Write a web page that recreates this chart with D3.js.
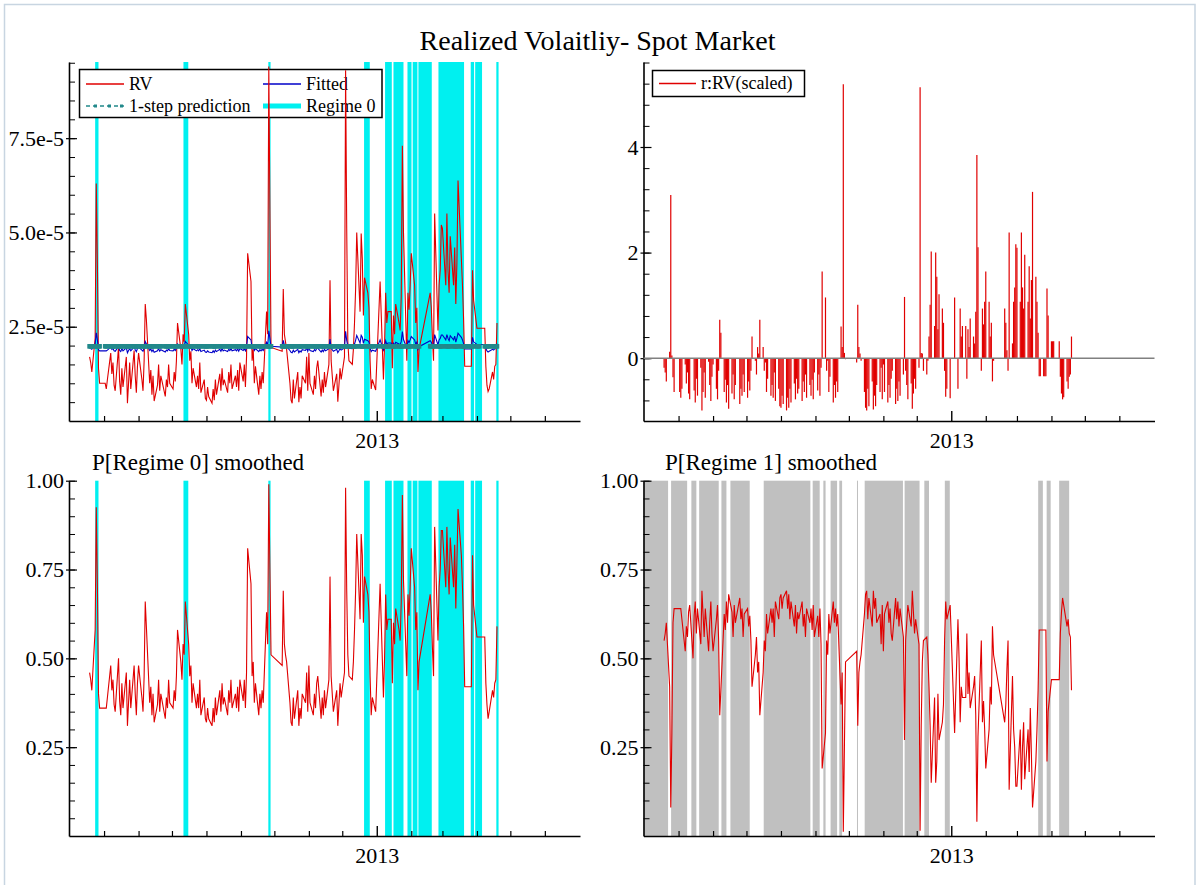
<!DOCTYPE html>
<html><head><meta charset="utf-8">
<script src="https://cdn.jsdelivr.net/npm/d3@7"></script>
<style>body{margin:0;background:#fff}svg{display:block}</style>
</head><body><svg id="c" width="1198" height="885"></svg>
<script>
// ---------------- DATA ----------------
const chartTitle = "Realized Volaitliy- Spot Market";
const firstDay = "2012-04-18", lastDay = "2013-04-19";
const holidays = ["2012-04-30","2012-05-01","2012-06-22","2012-10-01","2012-10-02","2012-10-03","2012-10-04","2012-10-05",
  "2013-01-01","2013-01-02","2013-01-03","2013-02-11","2013-02-12","2013-02-13","2013-02-14","2013-02-15","2013-04-04","2013-04-05"];
const axisStart = "2012-03-30T12:00", axisEnd = "2013-07-02T14:00";
const monthTickFirst = "2012-05-01", monthTickLast = "2013-06-01";
const yearTick = "2013-01-01", yearLabel = "2013";

// RV (x 1e-5)
const rv = [
1.70,1.55,1.30,2.20,6.30,4.20,1.40,1.00,
1.00,0.85,1.10,1.80,1.25,1.55,0.95,0.80,1.96,1.05,0.70,1.40,0.90,1.70,0.47,1.00,1.55,0.85,1.87,1.20,0.75,1.45,1.80,
1.10,0.80,1.60,3.10,2.70,1.00,1.35,0.70,1.20,0.53,0.95,1.50,0.80,1.20,0.65,1.10,0.90,1.50,1.00,
0.85,1.30,1.05,1.60,2.60,1.90,1.50,2.30,2.10,3.10,2.30,1.60,1.85,1.00,1.40,0.90,1.20,0.85,1.55,0.75,1.10,0.60,
0.55,0.90,0.65,0.47,0.85,0.55,1.10,0.70,1.25,0.80,1.40,0.95,1.10,0.75,1.30,1.00,1.50,0.85,1.20,0.90,1.35,0.80,1.55,
1.05,1.50,0.90,1.70,4.45,3.70,1.60,1.90,1.00,1.45,0.70,1.20,0.85,1.30,1.00,2.90,2.30,9.40,5.60,1.95,
1.85,3.50,2.30,2.10,1.90,1.00,0.55,0.47,1.10,0.60,1.30,0.50,0.90,0.60,1.20,1.00,1.70,0.80,
1.80,1.00,0.70,1.20,0.85,1.40,1.60,0.65,1.10,0.75,1.30,0.90,1.50,3.73,1.60,1.20,0.80,1.25,0.51,0.95,1.40,1.10,
1.70,9.30,5.10,2.10,1.60,1.50,1.90,2.60,3.50,5.00,2.90,4.97,4.30,2.80,3.80,3.40,3.00,1.60,0.85,1.10,0.82,
3.70,1.10,2.00,3.40,2.60,2.90,2.90,1.40,2.80,2.30,3.10,2.60,2.40,3.30,7.30,5.00,1.60,3.40,2.95,3.60,
4.45,3.60,2.60,3.00,1.30,1.90,3.40,3.00,2.20,1.60,5.50,2.40,3.60,4.00,5.20,
5.10,3.60,5.50,4.00,3.40,4.90,3.60,4.60,3.10,4.20,6.38,4.30,3.60,2.70,1.45,1.45,1.45,1.45,1.45,4.00,3.20,
2.46,2.46,2.46,2.46,1.45,0.95,0.78,0.85,1.30,1.10,1.45,1.50,2.60];

// Fitted (x 1e-5)
const fitted = [
1.94,1.92,1.90,2.04,2.34,2.15,1.89,1.86,
1.86,1.86,1.88,1.96,1.90,1.92,1.86,1.85,1.98,1.87,1.84,1.92,1.86,1.94,1.81,1.87,1.92,1.86,1.96,1.89,1.84,1.92,1.96,
1.88,1.85,1.93,2.11,2.05,1.87,1.91,1.84,1.89,1.82,1.86,1.92,1.85,1.89,1.83,1.88,1.86,1.92,1.87,
1.86,1.90,1.87,1.93,2.04,1.97,1.92,2.01,1.98,2.11,2.01,1.93,1.96,1.87,1.92,1.86,1.89,1.86,1.92,1.84,1.88,1.83,
1.82,1.86,1.83,1.81,1.86,1.82,1.88,1.84,1.90,1.85,1.92,1.86,1.88,1.84,1.90,1.87,1.92,1.86,1.89,1.86,1.91,1.85,1.92,
1.87,1.92,1.86,1.94,2.24,2.15,1.93,1.97,1.87,1.92,1.84,1.89,1.86,1.90,1.87,2.09,2.01,2.39,2.19,1.98,
1.96,2.14,2.01,1.98,1.97,1.87,1.82,1.81,1.88,1.83,1.90,1.81,1.86,1.83,1.89,1.87,1.94,1.85,
1.96,1.87,1.84,1.89,1.86,1.92,1.93,1.83,1.88,1.84,1.90,1.86,1.92,2.17,1.93,1.89,1.85,1.90,1.81,1.86,1.92,1.88,
1.94,2.38,2.14,1.98,1.93,1.92,1.97,2.04,2.14,2.27,2.07,2.27,2.22,2.06,2.17,2.13,2.09,1.93,1.84,1.88,1.85,
2.15,1.88,1.98,2.13,2.04,2.07,2.07,1.92,2.06,2.01,2.09,2.04,2.02,2.11,2.37,2.16,1.93,2.13,2.08,2.15,
2.24,2.15,2.04,2.09,1.90,1.97,2.13,2.09,2.00,1.93,2.29,2.02,2.15,2.19,2.28,
2.28,2.15,2.29,2.19,2.13,2.26,2.15,2.25,2.09,2.20,2.33,2.22,2.15,2.05,1.91,1.91,1.91,1.91,1.91,2.22,2.10,
2.03,2.03,2.03,2.03,1.92,1.86,1.83,1.85,1.90,1.88,1.92,1.92,2.05];

// 1-step prediction level (x 1e-5)
const predictionLevel = 1.98;

// P[Regime 0] smoothed
const p0 = [
.46,.44,.41,.58,.925,.71,.40,.36,
.36,.36,.39,.48,.41,.44,.37,.35,.50,.38,.34,.43,.36,.46,.31,.375,.44,.36,.48,.40,.34,.43,.48,
.39,.35,.45,.66,.59,.375,.42,.34,.40,.32,.37,.44,.35,.40,.33,.39,.36,.44,.375,
.36,.41,.38,.45,.58,.49,.44,.54,.51,.66,.54,.45,.48,.375,.43,.36,.40,.36,.44,.34,.39,.33,
.32,.36,.33,.31,.36,.32,.39,.34,.41,.35,.43,.37,.39,.34,.41,.375,.44,.36,.40,.36,.42,.35,.44,
.38,.44,.36,.46,.81,.71,.45,.49,.375,.43,.34,.40,.36,.41,.375,.63,.54,.99,.75,.51,
.48,.69,.54,.51,.49,.375,.32,.31,.39,.33,.41,.31,.36,.33,.40,.375,.46,.35,
.48,.375,.34,.40,.36,.43,.45,.33,.39,.34,.41,.36,.44,.73,.45,.40,.35,.41,.31,.37,.43,.39,
.46,.98,.69,.51,.45,.44,.49,.58,.69,.85,.61,.85,.79,.60,.73,.68,.63,.45,.34,.39,.35,
.71,.39,.50,.68,.58,.61,.61,.43,.60,.54,.64,.58,.55,.66,.96,.72,.45,.68,.62,.70,
.81,.70,.58,.63,.41,.49,.68,.63,.53,.45,.87,.55,.70,.75,.86,
.86,.70,.87,.75,.68,.84,.70,.82,.64,.77,.92,.79,.70,.59,.42,.42,.42,.42,.42,.79,.65,
.56,.56,.56,.56,.43,.37,.33,.35,.41,.39,.43,.44,.59];

// P[Regime 1] smoothed
const p1 = [
.55,.57,.60,.42,.08,.29,.60,.64,
.64,.64,.61,.52,.59,.56,.63,.65,.50,.62,.66,.57,.64,.54,.69,.625,.56,.64,.52,.60,.66,.57,.52,
.61,.65,.55,.34,.41,.625,.58,.66,.60,.68,.63,.56,.65,.60,.67,.61,.64,.56,.625,
.64,.59,.62,.55,.42,.51,.56,.46,.49,.34,.46,.55,.52,.625,.57,.64,.60,.64,.56,.66,.61,.67,
.68,.64,.67,.69,.64,.68,.61,.66,.59,.65,.57,.63,.61,.66,.59,.625,.56,.64,.60,.64,.58,.65,.56,
.62,.56,.64,.54,.19,.29,.55,.51,.625,.57,.66,.60,.64,.59,.625,.37,.46,.012,.25,.49,
.52,.31,.46,.49,.51,.625,.68,.69,.61,.67,.59,.69,.64,.67,.60,.625,.54,.65,
.52,.625,.66,.60,.64,.57,.55,.67,.61,.66,.59,.64,.56,.27,.55,.60,.65,.59,.69,.63,.57,.61,
.54,.015,.31,.49,.55,.56,.51,.42,.31,.15,.39,.15,.21,.40,.27,.32,.37,.55,.66,.61,.65,
.29,.61,.50,.32,.42,.39,.39,.57,.40,.46,.36,.42,.45,.34,.04,.28,.55,.32,.38,.30,
.19,.30,.42,.37,.59,.51,.32,.37,.47,.55,.13,.45,.30,.25,.14,
.14,.30,.13,.25,.32,.16,.30,.18,.36,.23,.08,.21,.30,.41,.58,.58,.58,.58,.58,.21,.35,
.44,.44,.44,.44,.57,.63,.67,.65,.59,.61,.57,.56,.41];

// r:RV (scaled)
const resid = [
-0.18,-0.27,-0.44,0.12,3.09,0.05,-0.36,-0.64,
-0.64,-0.75,-0.58,-0.12,-0.48,-0.27,-0.67,-0.78,-0.01,-0.61,-0.84,-0.39,-0.71,-0.18,-0.99,-0.64,-0.27,-0.75,-0.07,-0.51,-0.81,-0.35,-0.12,
-0.58,-0.78,-0.24,0.73,0.48,-0.64,-0.41,-0.84,-0.51,-0.96,-0.67,-0.31,-0.78,-0.51,-0.87,-0.58,-0.71,-0.31,-0.64,
-0.75,-0.44,-0.61,-0.24,0.41,-0.05,-0.31,0.21,0.09,0.73,0.21,-0.24,-0.08,-0.64,-0.39,-0.71,-0.51,-0.75,-0.27,-0.81,-0.58,-0.91,
-0.94,-0.71,-0.87,-0.99,-0.75,-0.94,-0.58,-0.84,-0.48,-0.78,-0.39,-0.67,-0.58,-0.81,-0.44,-0.64,-0.31,-0.75,-0.51,-0.71,-0.41,-0.78,-0.27,
-0.61,-0.31,-0.71,-0.18,1.64,1.15,-0.24,-0.05,-0.64,-0.35,-0.84,-0.51,-0.75,-0.44,-0.64,0.60,0.21,5.19,0.10,-0.02,
-0.08,1.01,0.21,0.09,-0.05,-0.64,-0.94,-0.99,-0.58,-0.91,-0.44,-0.97,-0.71,-0.91,-0.51,-0.64,-0.18,-0.78,
-0.12,-0.64,-0.84,-0.51,-0.75,-0.39,-0.24,-0.87,-0.58,-0.81,-0.44,-0.71,-0.31,1.16,-0.24,-0.51,-0.78,-0.48,-0.96,-0.67,-0.39,-0.58,
-0.18,5.13,0.10,0.09,-0.24,-0.31,-0.05,0.41,1.01,2.02,0.61,2.00,1.54,0.55,1.21,0.94,0.67,-0.24,-0.73,-0.58,-0.76,
1.15,-0.58,0.01,0.94,0.41,0.61,0.61,-0.39,0.55,0.21,0.75,0.41,0.28,0.88,3.85,2.10,-0.24,0.94,0.64,1.07,
1.64,1.07,0.41,0.67,-0.44,-0.05,0.94,0.67,0.15,-0.24,2.38,0.28,1.07,1.34,2.16,
2.09,1.07,2.38,1.34,0.94,1.96,1.07,1.74,0.75,1.48,3.15,1.54,1.07,0.48,-0.34,-0.34,-0.34,-0.34,-0.34,1.32,0.81,
0.32,0.32,0.32,0.32,-0.35,-0.67,-0.78,-0.74,-0.44,-0.58,-0.35,-0.31,0.41];

// Regime classification shading
const regime0Bands = [
["2012-04-23T00:00","2012-04-26T00:00"],["2012-07-11T08:00","2012-07-15T16:00"],["2012-09-25T14:00","2012-09-27T14:00"],
["2012-12-20T14:00","2012-12-25T17:00"],["2013-01-08T11:00","2013-01-14T12:00"],["2013-01-16T00:00","2013-01-25T00:00"],
["2013-01-28T14:00","2013-02-01T05:00"],["2013-02-02T07:00","2013-02-06T12:00"],["2013-02-07T10:00","2013-02-19T10:00"],
["2013-02-25T10:00","2013-03-20T10:00"],["2013-03-26T10:00","2013-03-29T10:00"],["2013-03-30T10:00","2013-04-05T14:00"],
["2013-04-18T10:00","2013-04-20T10:00"]];
const regime1Bands = [
["2012-03-30T12:00","2012-04-21T14:00"],["2012-04-24T07:00","2012-05-08T17:00"],["2012-05-12T12:00","2012-05-17T00:00"],
["2012-05-19T12:00","2012-06-06T02:00"],["2012-06-08T12:00","2012-06-13T00:00"],["2012-06-16T14:00","2012-07-03T22:00"],
["2012-07-16T12:00","2012-08-27T10:00"],["2012-08-29T12:00","2012-09-04T19:00"],["2012-09-08T02:00","2012-09-10T02:00"],
["2012-09-14T14:00","2012-09-20T10:00"],["2012-09-22T10:00","2012-09-24T22:00"],["2012-10-08T07:00","2012-10-09T05:00"],
["2012-10-15T05:00","2012-11-18T14:00"],["2012-11-20T02:00","2012-12-03T12:00"],["2012-12-07T19:00","2012-12-12T00:00"],
["2012-12-26T05:00","2012-12-30T16:00"],["2013-03-20T02:00","2013-03-24T07:00"],["2013-03-27T17:00","2013-03-31T07:00"],
["2013-04-07T22:00","2013-04-16T22:00"]];

const rvMinorTicks = [0.5,1,1.5,2,2.5,3,3.5,4,4.5,5,5.5,6,6.5,7,7.5,8,8.5,9,9.5];
const rvMajorTicks = [2.5,5.0,7.5], rvTickLabels = ["2.5e-5","5.0e-5","7.5e-5"];
const resMinorTicks = [-0.8,-0.4,0,0.4,0.8,1.2,1.6,2,2.4,2.8,3.2,3.6,4,4.4,4.8,5.2,5.6];
const resMajorTicks = [0,2,4], resTickLabels = ["0","2","4"];
const pMinorTicks = [0.05,0.1,0.15,0.2,0.25,0.3,0.35,0.4,0.45,0.5,0.55,0.6,0.65,0.7,0.75,0.8,0.85,0.9,0.95,1];
const pMajorTicks = [0.25,0.5,0.75,1], pTickLabels = ["0.25","0.50","0.75","1.00"];

// ---------------- DRAW ----------------
const FONT = '"Liberation Serif","Times New Roman",Times,serif';
const RED = "#e00000", BLUE = "#0000c8", TEAL = "#22898b", CYAN = "#00f0f0", GREY = "#c0c0c0";
const svg = d3.select("#c");
const tpD = d3.timeParse("%Y-%m-%d"), tpH = d3.timeParse("%Y-%m-%dT%H:%M");
const pd = s => s.length > 10 ? tpH(s) : tpD(s);
const fmt = d3.timeFormat("%Y-%m-%d");
const hol = new Set(holidays);
const dates = d3.timeDay.range(pd(firstDay), d3.timeDay.offset(pd(lastDay), 1))
  .filter(d => d.getDay() !== 0 && d.getDay() !== 6 && !hol.has(fmt(d)));
const n = Math.min(dates.length, rv.length, fitted.length, p0.length, p1.length, resid.length);
const obs = d3.range(n).map(i => ({date: dates[i], rv: rv[i], fit: fitted[i], p0: p0[i], p1: p1[i], r: resid[i]}));

const dom = [pd(axisStart), pd(axisEnd)];
const xL = d3.scaleTime().domain(dom).range([69, 580]);
const xR = d3.scaleTime().domain(dom).range([643.5, 1154.5]);
const yRV = d3.scaleLinear().domain([0, 9.52]).range([421, 62]);
const yRes = d3.scaleLinear().domain([-1.19, 5.61]).range([421, 62]);
const yP0 = d3.scaleLinear().domain([0, 1]).range([836, 480.7]);
const yP1 = d3.scaleLinear().domain([0, 1]).range([836, 480.7]);

// page frame
svg.append("rect").attr("x",0).attr("y",0).attr("width",1198).attr("height",885).attr("fill","#fff");
svg.append("path").attr("d","M4.5,885V4.5H1195V885").attr("fill","none").attr("stroke","#c8d5e1").attr("stroke-width",1.5);

// title
svg.append("text").attr("x",597.5).attr("y",50).attr("text-anchor","middle")
  .attr("font-family",FONT).attr("font-size",28).text(chartTitle);

function bands(x, y, list, color) {
  const [xa, xb] = x.range(), [yb, yt] = y.range();
  svg.append("g").selectAll("rect").data(list).join("rect")
    .attr("x", d => Math.max(xa, x(pd(d[0]))))
    .attr("width", d => Math.max(0, Math.min(xb, x(pd(d[1]))) - Math.max(xa, x(pd(d[0])))))
    .attr("y", yt).attr("height", yb - yt).attr("fill", color);
}

const monthTicks = d3.timeMonth.range(pd(monthTickFirst), d3.timeMonth.offset(pd(monthTickLast), 1))
  .filter(d => +d !== +pd(yearTick));

function axes(x, y, minor, major, labels) {
  const x0 = x.range()[0], yb = y.range()[0];
  svg.append("g").attr("transform", `translate(${x0},0)`)
    .call(d3.axisLeft(y).tickValues(minor).tickSizeInner(-6).tickSizeOuter(0).tickFormat(""))
    .call(g => { g.select(".domain").remove(); g.selectAll(".tick line").attr("stroke-width",1); });
  const gy = svg.append("g").attr("transform", `translate(${x0},0)`)
    .call(d3.axisLeft(y).tickValues(major).tickSizeInner(-8).tickSizeOuter(0).tickPadding(5).tickFormat((d,i) => labels[i]));
  gy.attr("font-family", FONT).attr("font-size", 22);
  gy.selectAll(".tick line").attr("x1", -3).attr("stroke-width", 1.2);
  gy.select(".domain").attr("stroke-width", 1.6);
  const gx = svg.append("g").attr("transform", `translate(0,${yb})`)
    .call(d3.axisBottom(x).tickValues(monthTicks).tickSizeInner(-5).tickSizeOuter(0).tickFormat(""));
  gx.select(".domain").attr("stroke-width", 1.6);
  gx.selectAll(".tick line").attr("stroke-width", 1.2);
  const gyr = svg.append("g").attr("transform", `translate(0,${yb})`)
    .call(d3.axisBottom(x).tickValues([pd(yearTick)]).tickSizeInner(-10).tickSizeOuter(0).tickPadding(11).tickFormat(() => yearLabel));
  gyr.select(".domain").remove();
  gyr.attr("font-family", FONT).attr("font-size", 22);
  gyr.selectAll(".tick line").attr("stroke-width", 1.4);
}

// ---- top-left: RV ----
bands(xL, yRV, regime0Bands, CYAN);
axes(xL, yRV, rvMinorTicks, rvMajorTicks, rvTickLabels);
// legend
const lg = svg.append("g").attr("font-family", FONT).attr("font-size", 18);
lg.append("rect").attr("x",79.5).attr("y",69.5).attr("width",302.5).attr("height",48).attr("fill","#fff").attr("stroke","#000").attr("stroke-width",1.5);
lg.append("line").attr("x1",86).attr("x2",124).attr("y1",84).attr("y2",84).attr("stroke",RED).attr("stroke-width",1.3);
lg.append("text").attr("x",129).attr("y",84).attr("dy","0.33em").text("RV");
lg.append("line").attr("x1",263).attr("x2",301).attr("y1",84).attr("y2",84).attr("stroke",BLUE).attr("stroke-width",1.3);
lg.append("text").attr("x",306).attr("y",84).attr("dy","0.33em").text("Fitted");
lg.append("line").attr("x1",86).attr("x2",124).attr("y1",106).attr("y2",106).attr("stroke",TEAL).attr("stroke-width",1.6).attr("stroke-dasharray","4,3");
lg.selectAll("rect.m").data([95.5, 109.5, 121.5]).join("rect").attr("class","m").attr("x",d=>d-1.5).attr("y",104.5).attr("width",3).attr("height",3).attr("fill",TEAL);
lg.append("text").attr("x",129).attr("y",106).attr("dy","0.33em").text("1-step prediction");
lg.append("line").attr("x1",263).attr("x2",301).attr("y1",106).attr("y2",106).attr("stroke",CYAN).attr("stroke-width",5);
lg.append("text").attr("x",306).attr("y",106).attr("dy","0.33em").text("Regime 0");

svg.append("path").datum(obs).attr("fill","none").attr("stroke",RED).attr("stroke-width",1.1)
  .attr("d", d3.line().x(d => xL(d.date)).y(d => yRV(d.rv)));
svg.append("path").datum(obs).attr("fill","none").attr("stroke",BLUE).attr("stroke-width",1.1)
  .attr("d", d3.line().x(d => xL(d.date)).y(d => yRV(d.fit)));
svg.append("g").selectAll("rect").data(obs).join("rect")
  .attr("x", d => xL(d.date) - 2.3).attr("y", yRV(predictionLevel) - 2.3).attr("width", 4.6).attr("height", 4.6).attr("fill", TEAL);

// ---- top-right: residuals ----
axes(xR, yRes, resMinorTicks, resMajorTicks, resTickLabels);
svg.append("g").selectAll("line").data(obs).join("line")
  .attr("x1", d => xR(d.date)).attr("x2", d => xR(d.date))
  .attr("y1", yRes(0)).attr("y2", d => yRes(d.r)).attr("stroke", RED).attr("stroke-width", 1.2);
svg.append("line").attr("x1", xR.range()[0]).attr("x2", xR.range()[1]).attr("y1", yRes(0)).attr("y2", yRes(0))
  .attr("stroke", "#808080").attr("stroke-width", 1.5);
const lg2 = svg.append("g").attr("font-family", FONT).attr("font-size", 18);
lg2.append("rect").attr("x",652.5).attr("y",70.5).attr("width",152).attr("height",26).attr("fill","#fff").attr("stroke","#000").attr("stroke-width",1.5);
lg2.append("line").attr("x1",659).attr("x2",696).attr("y1",83.5).attr("y2",83.5).attr("stroke",RED).attr("stroke-width",1.3);
lg2.append("text").attr("x",701).attr("y",83.5).attr("dy","0.33em").text("r:RV(scaled)");

// ---- bottom-left: P[Regime 0] ----
bands(xL, yP0, regime0Bands, CYAN);
axes(xL, yP0, pMinorTicks, pMajorTicks, pTickLabels);
svg.append("path").datum(obs).attr("fill","none").attr("stroke",RED).attr("stroke-width",1.1)
  .attr("d", d3.line().x(d => xL(d.date)).y(d => yP0(d.p0)));
svg.append("text").attr("x",92).attr("y",470).attr("font-family",FONT).attr("font-size",23).text("P[Regime 0] smoothed");

// ---- bottom-right: P[Regime 1] ----
bands(xR, yP1, regime1Bands, GREY);
axes(xR, yP1, pMinorTicks, pMajorTicks, pTickLabels);
svg.append("path").datum(obs).attr("fill","none").attr("stroke",RED).attr("stroke-width",1.1)
  .attr("d", d3.line().x(d => xR(d.date)).y(d => yP1(d.p1)));
svg.append("text").attr("x",665).attr("y",470).attr("font-family",FONT).attr("font-size",23).text("P[Regime 1] smoothed");
</script></body></html>
